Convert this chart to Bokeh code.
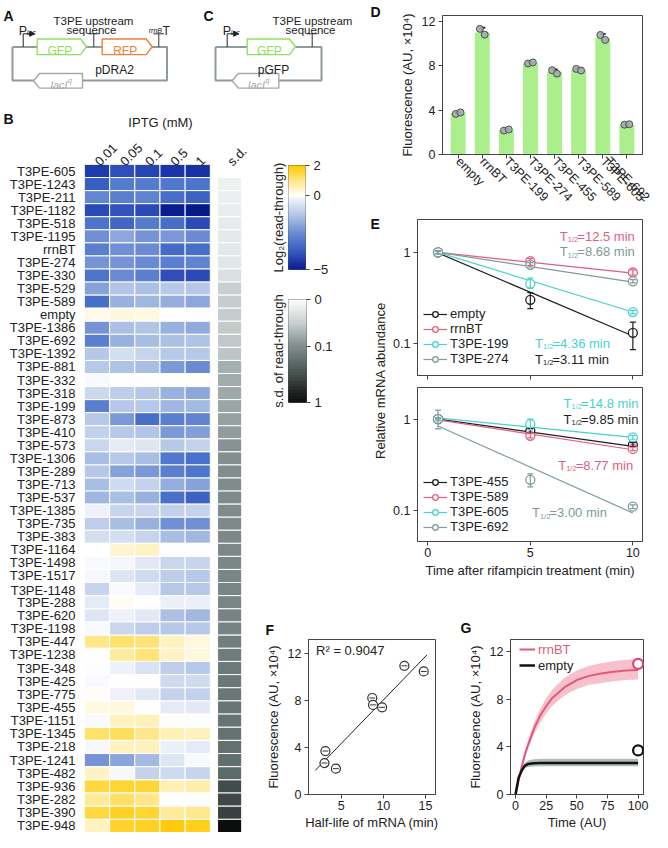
import math
import numpy as np
from bokeh.plotting import figure
from bokeh.layouts import row, column
from bokeh.models import (Range1d, FactorRange, FixedTicker, LinearAxis, Label, Legend, LegendItem,
                          Whisker, TeeHead, ColumnDataSource, LinearColorMapper, Arrow, NormalHead)
from bokeh.transform import dodge
from bokeh.core.properties import value
from bokeh.embed import file_html
from bokeh.resources import INLINE

FONT = "Liberation Sans"
INK = "#222222"
AX = "#444444"

# ---------------- data ----------------
hm_rows = ["T3PE-605", "T3PE-1243", "T3PE-211", "T3PE-1182", "T3PE-518", "T3PE-1195", "rrnBT",
           "T3PE-274", "T3PE-330", "T3PE-529", "T3PE-589", "empty", "T3PE-1386", "T3PE-692",
           "T3PE-1392", "T3PE-881", "T3PE-332", "T3PE-318", "T3PE-199", "T3PE-873", "T3PE-410",
           "T3PE-573", "T3PE-1306", "T3PE-289", "T3PE-713", "T3PE-537", "T3PE-1385", "T3PE-735",
           "T3PE-383", "T3PE-1164", "T3PE-1498", "T3PE-1517", "T3PE-1148", "T3PE-288", "T3PE-620",
           "T3PE-1198", "T3PE-447", "T3PE-1238", "T3PE-348", "T3PE-425", "T3PE-775", "T3PE-455",
           "T3PE-1151", "T3PE-1345", "T3PE-218", "T3PE-1241", "T3PE-482", "T3PE-936", "T3PE-282",
           "T3PE-390", "T3PE-948"]
iptg = ["0.01", "0.05", "0.1", "0.5", "1"]
hm_vals = [
    [-4.3, -3.9, -4.1, -4.4, -4.5], [-3.6, -2.9, -2.9, -3.0, -3.1], [-2.6, -2.8, -2.7, -3.2, -3.5],
    [-4.0, -3.8, -4.0, -4.9, -5.0], [-3.1, -3.4, -2.9, -3.2, -4.0], [-2.4, -1.9, -2.3, -2.2, -2.5],
    [-2.8, -2.4, -2.5, -3.3, -3.2], [-2.3, -2.3, -2.5, -2.8, -2.7], [-3.1, -2.5, -2.8, -3.9, -4.0],
    [-2.0, -1.3, -1.4, -1.2, -1.25], [-3.2, -1.7, -1.6, -1.8, -1.9], [0.2, 0.3, 0.25, 0.0, 0.0],
    [-2.3, -1.4, -1.3, -1.7, -1.85], [-2.8, -1.7, -1.5, -1.4, -1.35], [-1.25, -0.7, -0.95, -1.2, -1.2],
    [-1.2, -1.35, -1.45, -2.2, -2.5], [-0.1, 0.0, 0.0, 0.02, 0.05], [-0.85, -1.1, -1.25, -1.7, -1.9],
    [-2.8, -1.25, -1.2, -1.6, -1.55], [-1.2, -2.2, -3.2, -2.8, -2.65], [-1.05, -1.2, -1.3, -2.2, -2.05],
    [-0.9, -0.4, -0.5, -1.2, -1.0], [-1.45, -1.25, -1.45, -3.0, -3.15], [-1.25, -2.0, -2.2, -2.8, -3.05],
    [-1.45, -0.8, -1.0, -1.8, -2.0], [-1.6, -1.45, -1.7, -3.15, -3.5], [-0.25, -0.95, -0.9, -1.05, -1.0],
    [-1.1, -1.45, -1.7, -2.4, -2.4], [-0.7, -0.7, -0.95, -1.45, -1.6], [0.02, 0.4, 0.45, 0.0, 0.0],
    [-0.1, -0.15, -0.45, -0.9, -0.95], [-0.12, -0.5, -0.8, -1.1, -1.2], [-0.95, -0.1, -0.4, -1.25, -1.25],
    [-0.4, 0.1, 0.0, -0.3, -0.3], [-0.5, -0.25, -0.45, -1.4, -1.6], [-0.1, -0.9, -1.1, -1.25, -1.25],
    [1.0, 1.2, 1.1, 0.5, 0.3], [0.05, 0.8, 1.1, 0.45, 0.3], [-0.05, -0.25, -0.6, -1.1, -1.2],
    [-0.08, 0.0, 0.0, -0.8, -0.8], [0.08, -0.25, -0.45, -1.0, -1.05], [0.25, 0.3, 0.0, -0.4, -0.45],
    [-0.1, 0.5, 0.55, -0.05, -0.05], [1.2, 1.3, 1.0, 0.6, 0.55], [-0.12, 0.5, 0.55, -0.3, -0.4],
    [-2.3, -1.95, -1.55, -0.5, -0.08], [0.45, -0.12, -1.0, -0.8, -0.95], [1.5, 1.6, 1.55, 0.6, 0.7],
    [0.85, 1.25, 1.0, 0.0, -0.03], [1.5, 1.7, 1.6, 0.85, 0.95], [0.5, 1.65, 1.7, 1.9, 1.8]]
hm_sd = [0.0, 0.006, 0.007, 0.008, 0.009, 0.010, 0.011, 0.012, 0.016,
         0.028, 0.030, 0.030, 0.032, 0.034, 0.036,
         0.055, 0.058, 0.062, 0.066, 0.070, 0.075, 0.088,
         0.092, 0.095, 0.098, 0.10, 0.10, 0.102, 0.104, 0.106, 0.108, 0.11, 0.112, 0.114, 0.116, 0.118,
         0.13, 0.135, 0.14, 0.145, 0.15, 0.155, 0.16, 0.165, 0.17, 0.175, 0.19,
         0.33, 0.36, 0.40, 0.95]
hm_ticks_log2 = [2, 0, -5]
sd_ticks = [0.0, 0.1, 1.0]
sd_tick_labels = ["0", "0.1", "1"]

d_cats = ["empty", "rrnBT", "T3PE-199", "T3PE-274", "T3PE-455", "T3PE-589", "T3PE-605", "T3PE-692"]
d_vals = [3.70, 10.96, 2.20, 8.22, 7.42, 7.63, 10.48, 2.68]
d_rep1 = [3.65, 11.30, 2.15, 8.18, 7.58, 7.70, 10.75, 2.68]
d_rep2 = [3.78, 10.78, 2.25, 8.28, 7.27, 7.55, 10.30, 2.72]
d_err = [0.07, 0.45, 0.06, 0.06, 0.25, 0.10, 0.35, 0.04]

e_t = [0.5, 5, 10]
e_fit_t = [0.5, 10]
e1_names = ["empty", "rrnBT", "T3PE-199", "T3PE-274"]
e1_vals = [[1.0, 0.30, 0.13], [1.0, 0.80, 0.60], [1.0, 0.45, 0.22], [1.0, 0.73, 0.48]]
e1_lo = [[0.97, 0.24, 0.085], [0.97, 0.72, 0.56], [0.97, 0.40, 0.21], [0.97, 0.69, 0.46]]
e1_hi = [[1.03, 0.36, 0.17], [1.03, 0.86, 0.64], [1.03, 0.52, 0.23], [1.03, 0.77, 0.50]]
e1_fit = [[0.985, 0.12], [1.0, 0.59], [1.0, 0.22], [1.0, 0.47]]
e1_half = ["3.11", "12.5", "4.36", "8.68"]
e2_names = ["T3PE-455", "T3PE-589", "T3PE-605", "T3PE-692"]
e2_vals = [[1.0, 0.74, 0.52], [1.0, 0.655, 0.47], [1.0, 0.88, 0.63], [1.0, 0.215, 0.109]]
e2_lo = [[0.97, 0.70, 0.50], [0.96, 0.62, 0.45], [0.97, 0.76, 0.60], [0.78, 0.18, 0.104]]
e2_hi = [[1.03, 0.79, 0.55], [1.03, 0.69, 0.49], [1.03, 1.00, 0.66], [1.25, 0.25, 0.114]]
e2_fit = [[1.0, 0.50], [0.98, 0.46], [1.03, 0.63], [0.84, 0.093]]
e2_half = ["9.85", "8.77", "14.8", "3.00"]

f_hl = [3.11, 12.5, 4.36, 8.68, 9.85, 8.77, 14.8, 3.00]
f_hl_err = [0.35, 0.35, 0.35, 0.35, 0.35, 0.35, 0.35, 0.35]
f_fit_x = [1.9, 15.2]
f_fit_y = [2.05, 11.9]
f_r2 = "0.9047"

g_t = [0, 2.5, 5, 7.5, 10, 15, 20, 25, 30, 40, 50, 60, 70, 80, 90, 100]
g_rrnbt = [0, 1.2, 2.3, 3.3, 4.1, 5.5, 6.6, 7.4, 8.1, 9.0, 9.6, 9.95, 10.15, 10.3, 10.4, 10.45]
g_rrnbt_lo = [0, 1.1, 2.1, 3.0, 3.8, 5.0, 6.0, 6.8, 7.45, 8.3, 8.85, 9.2, 9.35, 9.5, 9.6, 9.65]
g_rrnbt_hi = [0, 1.3, 2.5, 3.6, 4.45, 6.0, 7.15, 8.05, 8.8, 9.8, 10.4, 10.8, 11.0, 11.2, 11.3, 11.35]
g_empty = [0, 1.4, 2.0, 2.4, 2.55, 2.63, 2.65, 2.65, 2.65, 2.65, 2.65, 2.65, 2.65, 2.65, 2.65, 2.65]
g_empty_lo = [0, 1.25, 1.8, 2.2, 2.3, 2.35, 2.36, 2.36, 2.36, 2.36, 2.36, 2.36, 2.36, 2.36, 2.36, 2.36]
g_empty_hi = [0, 1.55, 2.25, 2.65, 2.85, 2.95, 3.0, 3.0, 3.0, 3.0, 3.0, 3.0, 3.0, 3.0, 3.0, 3.0]
g_meas_t = 100

# ---------------- helpers ----------------
def hex2rgb(h):
    h = h.lstrip("#")
    return [int(h[i:i + 2], 16) for i in (0, 2, 4)]


def interp_palette(anchors, n=256):
    vs = [a[0] for a in anchors]
    rgbs = np.array([hex2rgb(a[1]) for a in anchors], dtype=float)
    out = []
    for k in range(n):
        v = vs[0] + (vs[-1] - vs[0]) * (k + 0.5) / n
        c = [int(round(np.interp(v, vs, rgbs[:, j]))) for j in range(3)]
        out.append("#%02x%02x%02x" % tuple(c))
    return out


hm_palette = interp_palette([(-5, "#061888"), (-4.4, "#1a36a8"), (-4, "#2a4ab8"), (-3.5, "#3d62c2"),
                             (-3, "#5078cc"), (-2.5, "#6a8ad2"), (-2, "#86a2da"), (-1.5, "#a6bce2"),
                             (-1, "#c4d2ec"), (-0.5, "#dee6f4"), (-0.2, "#f2f4fa"), (0, "#ffffff"),
                             (0.3, "#fff8dc"), (0.5, "#fff2c0"), (1, "#ffe68a"), (1.5, "#ffd840"),
                             (2, "#ffc800")])
sd_palette = interp_palette([(0, "#ffffff"), (0.1, "#e6eaea"), (0.25, "#c2cac9"), (0.45, "#7f8c8b"),
                             (0.6, "#5c6a68"), (0.75, "#3e4846"), (0.9, "#1c2020"), (1.0, "#0a0a0a")])
hm_mapper = LinearColorMapper(palette=hm_palette, low=-5, high=2)
sd_mapper = LinearColorMapper(palette=sd_palette, low=0, high=1)


def sd_pos(s):
    lo, hi = math.log10(0.02), math.log10(1.02)
    return (math.log10(s + 0.02) - lo) / (hi - lo)


def fig(w, h, l, r, t, b, **kw):
    return figure(width=w, height=h, min_border_left=l, min_border_right=r, min_border_top=t,
                  min_border_bottom=b, output_backend="svg", toolbar_location=None,
                  frame_align=False, **kw)


def canvas_fig(w, h):
    # plain drawing area (no axes); y grows upward, 0 at the bottom edge
    p = fig(w, h, 0, 0, 0, 0, x_range=Range1d(0, w), y_range=Range1d(0, h),
            x_axis_location=None, y_axis_location=None, outline_line_color=None)
    p.grid.visible = False
    return p


def style_axis(ax, tick_size="12.5px"):
    ax.axis_line_color = AX
    ax.major_tick_line_color = AX
    ax.major_tick_out = 4
    ax.major_tick_in = 0
    ax.minor_tick_line_color = None
    ax.major_label_text_font = FONT
    ax.major_label_text_font_size = tick_size
    ax.major_label_text_color = INK
    ax.major_label_standoff = 3
    ax.axis_label_text_font = FONT
    ax.axis_label_text_font_size = "13px"
    ax.axis_label_text_font_style = "normal"
    ax.axis_label_text_color = INK
    ax.axis_label_standoff = 4


def style(p, tick_size="12.5px"):
    p.grid.visible = False
    p.background_fill_color = "white"
    p.border_fill_color = "white"
    for ax in p.axis:
        style_axis(ax, tick_size)


def put_text(p, x, y, txt, size="13px", bold=False, italic=False, color=INK, align="left",
             baseline="alphabetic", angle=0.0):
    st = "bold" if bold else ("italic" if italic else "normal")
    p.text(x=[x], y=[y], text=[txt], text_font=value(FONT), text_font_size=size, text_font_style=st,
           text_color=color, text_align=align, text_baseline=baseline, angle=angle)


# ---------------- A / C schematics (+ B letter, IPTG title) ----------------
ac = fig(360, 132, 0, 0, 0, 0, x_range=Range1d(0, 360), y_range=Range1d(132, 0),
         x_axis_location=None, y_axis_location=None, outline_line_color=None)
ac.grid.visible = False
GL = "#8f9b9d"
GREEN = "#8fe062"
ORANGE = "#f07e3a"
LGRAY = "#a3a9a9"


def plasmid(x0, x1, plac, term, genes, lac0, lac1, name, namex, up_x):
    ac.line([x0, x0, x1, x1, x0], [46.5, 80, 80, 46.5, 46.5], line_color=GL, line_width=2)
    ac.line([plac, plac, plac + 6], [46.5, 33.3, 33.3], line_color=INK, line_width=1)
    ac.add_layout(Arrow(end=NormalHead(size=5, fill_color=INK, line_color=INK), line_color=INK,
                        line_width=1, x_start=plac + 5, y_start=33.3, x_end=plac + 11.5, y_end=33.3))
    put_text(ac, plac - 4.5, 30.5, "P", size="12.5px")
    put_text(ac, plac + 3.5, 31.5, "lac", size="7px", italic=True)
    for tx in term:
        ac.line([tx, tx], [46.5, 33.3], line_color="#333333", line_width=1)
        ac.line([tx - 5.3, tx + 5.3], [33.3, 33.3], line_color="#333333", line_width=1)
    for (g0, g1, lab_, col) in genes:
        ac.patch([g0, g1 - 6, g1, g1 - 6, g0], [38.5, 38.5, 46.3, 54.1, 54.1], fill_color="white",
                 line_color=col, line_width=1.4)
        put_text(ac, (g0 + g1 - 6) / 2 + 1, 50.5, lab_, size="12px", color=col, align="center")
    ac.patch([lac0, lac0 + 6, lac1, lac1, lac0 + 6], [80.3, 73, 73, 87.6, 87.6], fill_color="white",
             line_color=LGRAY, line_width=1.4)
    put_text(ac, (lac0 + lac1) / 2 + 1, 84.5, "lacI", size="11px", italic=True, color=LGRAY, align="center")
    put_text(ac, (lac0 + lac1) / 2 + 10, 79.5, "q", size="7px", italic=True, color=LGRAY)
    put_text(ac, namex, 69, name, size="12px", align="center")
    put_text(ac, up_x, 20.7, "T3PE upstream", size="11.5px", align="center")
    put_text(ac, up_x - 2, 29.5, "sequence", size="11.5px", align="center")


plasmid(12, 166.5, 22.7, [93.3, 158.3], [(36.7, 86, "GFP", GREEN), (101.7, 151.7, "RFP", ORANGE)],
        33, 82, "pDRA2", 114, 93)
put_text(ac, 161.5, 30, "rrnB", size="7px", italic=True, align="right")
put_text(ac, 162, 30.5, "T", size="12px")
plasmid(215, 321, 226.7, [311.7], [(246.7, 295, "GFP", GREEN)], 231.7, 278.3, "pGFP", 273, 312)
put_text(ac, 3, 15.5, "A", size="14px", bold=True, color="#111111")
put_text(ac, 203, 15.5, "C", size="14px", bold=True, color="#111111")
put_text(ac, 3, 118.5, "B", size="14px", bold=True, color="#111111")
put_text(ac, 160, 121.5, "IPTG (mM)", size="13px", align="center", baseline="middle")

# ---------------- B heatmap ----------------
SD_X = 5.765


def heat(idx, w, h, top, above):
    names = [hm_rows[i] for i in idx]
    p = fig(w, h, 84, 9, top, 0, x_range=Range1d(0, 6.24), y_range=FactorRange(factors=names[::-1]),
            x_axis_location="above" if above else None, y_axis_location="left", outline_line_color=None)
    xs, ys, vs = [], [], []
    for i in idx:
        for j in range(len(iptg)):
            xs.append(j + 0.5)
            ys.append(hm_rows[i])
            vs.append(hm_vals[i][j])
    p.rect(x="x", y="y", width=1, height=1, source=ColumnDataSource(dict(x=xs, y=ys, v=vs)),
           fill_color={"field": "v", "transform": hm_mapper}, line_color="white", line_width=1)
    sp = [sd_pos(hm_sd[i]) for i in idx]
    p.rect(x=SD_X, y="y", width=0.954, height=1,
           source=ColumnDataSource(dict(y=names, s=sp)),
           fill_color={"field": "s", "transform": sd_mapper}, line_color="white", line_width=1)
    style(p, "13px")
    p.yaxis.axis_line_color = None
    p.yaxis.major_tick_line_color = None
    p.yaxis.major_label_standoff = 5
    if above:
        ticks = [j + 0.5 for j in range(len(iptg))] + [SD_X]
        p.xaxis.ticker = FixedTicker(ticks=ticks)
        p.xaxis.major_label_overrides = dict(zip(ticks, iptg + ["s.d."]))
        p.xaxis.major_label_orientation = math.pi / 4
        p.xaxis.axis_line_color = None
        p.xaxis.major_tick_line_color = None
        p.xaxis.major_tick_out = 0
        p.xaxis.major_label_standoff = 1
    return p


btop = heat(list(range(0, 32)), 250, 450, 29, True)
bbot = heat(list(range(32, 51)), 250, 250, 0, False)


def colorbar_fig(h, top, bottom, yr, mapper, lv, ticks, labels, title, right_b):
    p = fig(110, h, 38, right_b, top, bottom, x_range=Range1d(0, 1), y_range=Range1d(*yr),
            x_axis_location=None, y_axis_location=None, outline_line_color="#666666")
    src = ColumnDataSource(dict(b=lv[:-1], t=lv[1:], m=(lv[:-1] + lv[1:]) / 2))
    p.quad(left=0, right=1, bottom="b", top="t", source=src,
           fill_color={"field": "m", "transform": mapper},
           line_color={"field": "m", "transform": mapper}, line_width=0.6)
    rax = LinearAxis(ticker=FixedTicker(ticks=ticks))
    if labels is not None:
        rax.major_label_overrides = dict(zip(ticks, labels))
    lax = LinearAxis(ticker=FixedTicker(ticks=[]), axis_label=title)
    p.add_layout(rax, "right")
    p.add_layout(lax, "left")
    style(p, "13px")
    for ax in (rax, lax):
        ax.axis_line_color = None
        ax.axis_label_standoff = 3
        ax.major_label_standoff = 4
    return p


cb1 = colorbar_fig(148, 33, 11, (-5, 2), hm_mapper, np.linspace(-5, 2, 141), hm_ticks_log2, None,
                   "Log\u2082(read-through)", 55)
sdt = [sd_pos(s) for s in sd_ticks]
cb2 = colorbar_fig(302, 19, 180, (1, 0), sd_mapper, np.linspace(0, 1, 121), sdt, sd_tick_labels,
                   "s.d. of read-through", 54)

# ---------------- D bars ----------------
d = fig(264, 215, 54, 10, 15, 61,
        x_range=FactorRange(factors=d_cats, range_padding=0.15, range_padding_units="absolute"),
        y_range=Range1d(0, 12.5), outline_line_color=AX)
dsrc = ColumnDataSource(dict(cat=d_cats, v=d_vals, r1=d_rep1, r2=d_rep2,
                             up=[v + e for v, e in zip(d_vals, d_err)],
                             lo=[v - e for v, e in zip(d_vals, d_err)]))
d.add_layout(Whisker(source=dsrc, base="cat", upper="up", lower="lo", line_color="#111111", line_width=1.6,
                     upper_head=TeeHead(size=6, line_color="#111111", line_width=1.6),
                     lower_head=TeeHead(size=6, line_color="#111111", line_width=1.6), level="underlay"))
d.vbar(x="cat", top="v", width=0.62, source=dsrc, fill_color="#abef8c", line_color=None)
for col, off in (("r1", -0.1), ("r2", 0.1)):
    d.scatter(x=dodge("cat", off, range=d.x_range), y=col, source=dsrc, size=7, fill_color="#a2acac",
              fill_alpha=0.9, line_color="#4a5252", line_width=1)
style(d)
d.yaxis.ticker = FixedTicker(ticks=[0, 4, 8, 12])
d.yaxis.axis_label = "Fluorescence (AU, \u00d710\u2074)"
d.xaxis.major_label_orientation = -math.pi / 4
d.xaxis.major_label_text_font_size = "12.5px"
d.xaxis.major_label_standoff = 1

# ---------------- E decay ----------------
E_COLORS = ["#1e1e1e", "#e0607e", "#46d2cf", "#7f9a9a"]


def thalf(p, x, y, val, color):
    common = dict(x=x, y=y, text_font=FONT, text_color=color, text_baseline="middle", text_align="left")
    p.add_layout(Label(text="T", text_font_size="13px", **common))
    p.add_layout(Label(text="1/2", text_font_size="7.5px", x_offset=8, y_offset=-3.5, **common))
    p.add_layout(Label(text="=%s min" % val, text_font_size="13px", x_offset=17.5, **common))


def e_panel(h, mbt, mbb, yr, names, vals, lo, hi, fit, halves, ann, leg_y, bottom_labels):
    p = fig(264, h, 29, 10, mbt, mbb, x_range=Range1d(-0.5, 10.47), y_range=Range1d(*yr),
            y_axis_type="log", outline_line_color=AX)
    items = []
    for i, name in enumerate(names):
        c = E_COLORS[i]
        lr = p.line(e_fit_t, fit[i], line_color=c, line_width=1.2)
        src = ColumnDataSource(dict(t=e_t, v=vals[i], lo=lo[i], hi=hi[i]))
        sr = p.scatter("t", "v", source=src, size=9, fill_color="white", line_color=c, line_width=1.3)
        p.add_layout(Whisker(source=src, base="t", lower="lo", upper="hi", line_color=c, line_width=1.2,
                             upper_head=TeeHead(size=6, line_color=c, line_width=1.2),
                             lower_head=TeeHead(size=6, line_color=c, line_width=1.2), level="overlay"))
        items.append(LegendItem(label=name, renderers=[lr, sr]))
        thalf(p, ann[i][0], ann[i][1], halves[i], c)
    leg = Legend(items=items, location=(6, leg_y), label_text_font=FONT, label_text_font_size="13px",
                 label_text_color=INK, glyph_width=24, glyph_height=14, label_height=14, spacing=0,
                 padding=0, margin=0, label_standoff=3, background_fill_alpha=0, border_line_color=None)
    p.add_layout(leg)
    style(p)
    p.yaxis.ticker = FixedTicker(ticks=[0.1, 1])
    p.yaxis.major_label_overrides = {0.1: "0.1", 1: "1"}
    p.xaxis.ticker = FixedTicker(ticks=[0, 5, 10])
    if not bottom_labels:
        p.xaxis.major_label_overrides = {0: "", 5: "", 10: ""}
        p.xaxis.major_label_text_font_size = "1px"
        p.xaxis.major_label_standoff = 0
    else:
        p.xaxis.axis_label = "Time after rifampicin treatment (min)"
        p.xaxis.major_label_standoff = 2
        p.xaxis.axis_label_standoff = 3
    return p


e1 = e_panel(166, 4, 6, (0.044, 2.3), e1_names, e1_vals, e1_lo, e1_hi, e1_fit, e1_half,
             [(5.23, 0.0662), (6.44, 1.50), (5.23, 0.0994), (6.44, 1.02)], 9, False)
e2 = e_panel(201, 6, 41, (0.0452, 2.22), e2_names, e2_vals, e2_lo, e2_hi, e2_fit, e2_half,
             [(6.62, 1.0), (6.36, 0.312), (6.62, 1.50), (5.08, 0.094)], 7, True)

lab = canvas_fig(28, 582)
put_text(lab, 10, 579, "D", size="14px", bold=True, color="#111111", baseline="top")
put_text(lab, 10, 367, "E", size="14px", bold=True, color="#111111", baseline="top")
put_text(lab, 20, 202, "Relative mRNA abundance", size="13px", align="center", baseline="middle",
         angle=math.pi / 2)

# ---------------- F correlation ----------------
f = fig(190, 194, 58, 5, 1, 38, x_range=Range1d(1.1, 16.2), y_range=Range1d(0, 13.2), outline_line_color=AX)
f.line(f_fit_x, f_fit_y, line_color="#222222", line_width=1)
fsrc = ColumnDataSource(dict(x=f_hl, y=d_vals, xl=[a - b for a, b in zip(f_hl, f_hl_err)],
                             xu=[a + b for a, b in zip(f_hl, f_hl_err)]))
f.scatter("x", "y", source=fsrc, size=9, fill_color="white", line_color="#333333", line_width=1.2)
f.add_layout(Whisker(source=fsrc, base="y", lower="xl", upper="xu", dimension="width", line_color="#333333",
                     line_width=1, upper_head=None, lower_head=None, level="overlay"))
f.add_layout(Label(x=2.0, y=12.3, text="R\u00b2 = " + f_r2, text_font=FONT, text_font_size="13px",
                   text_color=INK, text_baseline="middle", text_align="left"))
style(f)
f.xaxis.ticker = FixedTicker(ticks=[5, 10, 15])
f.yaxis.ticker = FixedTicker(ticks=[0, 4, 8, 12])
f.xaxis.axis_label = "Half-life of mRNA (min)"
f.yaxis.axis_label = "Fluorescence (AU, \u00d710\u2074)"
f.xaxis.major_label_standoff = 2
f.xaxis.axis_label_standoff = 2
flab = canvas_fig(190, 56)
put_text(flab, 15, 9, "F", size="14px", bold=True, color="#111111", baseline="middle")

# ---------------- G model ----------------
g = fig(212, 194, 70, 9, 1, 38, x_range=Range1d(-4.1, 104.4), y_range=Range1d(0, 13.0), outline_line_color=AX)
g.varea(x=g_t, y1=g_rrnbt_lo, y2=g_rrnbt_hi, fill_color="#f6b9c8", fill_alpha=0.9)
g.varea(x=g_t, y1=g_empty_lo, y2=g_empty_hi, fill_color="#97a7a7", fill_alpha=0.75)
lr1 = g.line(g_t, g_rrnbt, line_color="#e05a7c", line_width=2)
lr2 = g.line(g_t, g_empty, line_color="#111111", line_width=2.5)
g.scatter([g_meas_t], [d_vals[1]], size=10, fill_color="white", line_color="#d8487a", line_width=2.2)
g.scatter([g_meas_t], [d_vals[0]], size=10, fill_color="white", line_color="#111111", line_width=2.2)
for items, ly, col in (([LegendItem(label="rrnBT", renderers=[lr1])], 137, "#e05a7c"),
                       ([LegendItem(label="empty", renderers=[lr2])], 121, INK)):
    g.add_layout(Legend(items=items, location=(9, ly), label_text_font=FONT, label_text_font_size="13px",
                        label_text_color=col, glyph_width=16, glyph_height=16, label_height=16, spacing=0,
                        padding=0, margin=0, label_standoff=3, background_fill_alpha=0,
                        border_line_color=None))
style(g)
g.xaxis.ticker = FixedTicker(ticks=[0, 25, 50, 75, 100])
g.yaxis.ticker = FixedTicker(ticks=[0, 4, 8, 12])
g.xaxis.axis_label = "Time (AU)"
g.yaxis.axis_label = "Fluorescence (AU, \u00d710\u2074)"
g.xaxis.major_label_standoff = 2
g.xaxis.axis_label_standoff = 2
glab = canvas_fig(212, 56)
put_text(glab, 20, 11, "G", size="14px", bold=True, color="#111111", baseline="middle")

# ---------------- layout ----------------
left_col = column(ac, row(btop, column(cb1, cb2)))
right_col = row(lab, column(d, e1, e2))
layout = column(row(left_col, right_col),
                row(bbot, column(flab, f), column(glab, g)))

open("out.html", "w").write(file_html(layout, INLINE))
